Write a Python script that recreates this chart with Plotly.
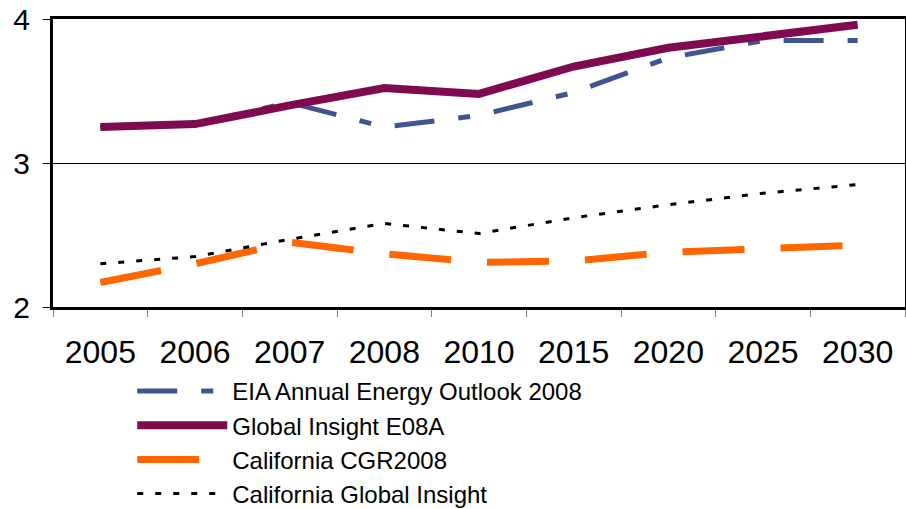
import plotly.graph_objects as go

years = ['2005', '2006', '2007', '2008', '2010', '2015', '2020', '2025', '2030']

eia_aeo = [3.25, 3.27, 3.42, 3.25, 3.33, 3.49, 3.73, 3.85, 3.85]
gi_e08a = [3.25, 3.27, 3.40, 3.52, 3.48, 3.67, 3.80, 3.88, 3.96]
ca_cgr = [2.17, 2.30, 2.45, 2.37, 2.31, 2.32, 2.38, 2.40, 2.43]
ca_gi = [2.30, 2.35, 2.47, 2.58, 2.51, 2.62, 2.71, 2.79, 2.85]

fig = go.Figure()

fig.add_trace(go.Scatter(
    x=years, y=eia_aeo, mode='lines', name='EIA Annual Energy Outlook 2008',
    line=dict(color='#3F5591', width=5, dash='40px,24px,12px,24px')
))
fig.add_trace(go.Scatter(
    x=years, y=gi_e08a, mode='lines', name='Global Insight E08A',
    line=dict(color='#800A4F', width=8)
))
fig.add_trace(go.Scatter(
    x=years, y=ca_cgr, mode='lines', name='California CGR2008',
    line=dict(color='#FF6600', width=7, dash='62px,36px')
))
fig.add_trace(go.Scatter(
    x=years, y=ca_gi, mode='lines', name='California Global Insight',
    line=dict(color='black', width=3, dash='6px,12px')
))

fig.update_layout(
    width=906, height=509,
    margin=dict(l=53, r=1, t=19, b=202, autoexpand=False),
    paper_bgcolor='white',
    plot_bgcolor='white',
    font=dict(family='Liberation Sans, Arial, sans-serif', color='black'),
    showlegend=True,
    legend=dict(
        orientation='v',
        x=0.093, xanchor='left',
        y=-0.215, yanchor='top',
        font=dict(size=24),
        itemwidth=90,
        bgcolor='rgba(0,0,0,0)'
    )
)

fig.update_xaxes(
    type='category', range=[-0.5, 8.5],
    showline=True, linecolor='black', linewidth=3, mirror=True,
    ticks='outside', tickson='boundaries', ticklen=7, tickcolor='#808080', tickwidth=1,
    tickfont=dict(size=32),
    ticklabelstandoff=15,
    showgrid=False
)

fig.update_yaxes(
    range=[2, 4], dtick=1,
    showline=True, linecolor='black', linewidth=3, mirror=True,
    ticks='outside', ticklen=7, tickcolor='black', tickwidth=1,
    tickfont=dict(size=30),
    ticklabelstandoff=7,
    ticklabeloverflow='allow',
    showgrid=True, gridcolor='black', gridwidth=1,
    zeroline=False
)

# drop the default 8px body margin so the figure fills the window
fig.write_html("out.html", config={'displayModeBar': False},
               post_script="document.body.style.margin='0';")
